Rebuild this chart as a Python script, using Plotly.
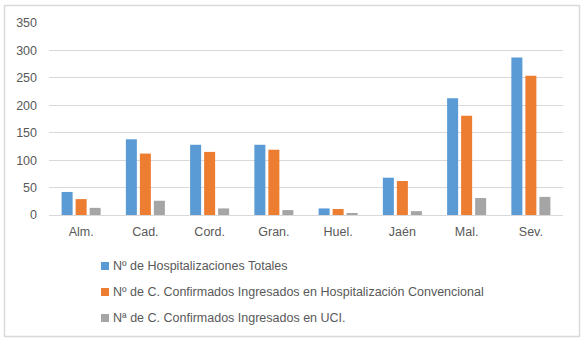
import plotly.graph_objects as go

categories = ["Alm.", "Cad.", "Cord.", "Gran.", "Huel.", "Jaén", "Mal.", "Sev."]
hosp_totales = [42, 138, 128, 128, 12, 68, 213, 287]
hosp_convencional = [29, 112, 115, 119, 11, 62, 181, 254]
uci = [13, 26, 12, 9, 2, 7, 31, 33]
series_names = [
    "Nº de Hospitalizaciones Totales",
    "Nº de C. Confirmados Ingresados en Hospitalización Convencional",
    "Nª de C. Confirmados Ingresados en UCI.",
]
colors = ["#5B9BD5", "#ED7D31", "#A5A5A5"]
y_ticks = [0, 50, 100, 150, 200, 250, 300, 350]

W, H = 586, 344
ml, mr, mt, mb = 49, 23, 23, 129
pw = W - ml - mr
ph = H - mt - mb


def px_x(x):
    return (x - ml) / pw


def px_y(y):
    return (H - mb - y) / ph


fig = go.Figure()
for name, vals, c in zip(series_names, [hosp_totales, hosp_convencional, uci], colors):
    fig.add_trace(go.Bar(x=categories, y=vals, name=name, showlegend=False,
                         marker=dict(color=c, line=dict(width=0))))

shapes = [dict(type="rect", xref="paper", yref="paper",
               x0=px_x(4.5), x1=px_x(579.5), y0=px_y(336.5), y1=px_y(5.5),
               line=dict(color="#D9D9D9", width=1.5), layer="below")]
annotations = []
row_y = [266, 292, 318]
for name, c, yc in zip(series_names, colors, row_y):
    shapes.append(dict(type="rect", xref="paper", yref="paper",
                       x0=px_x(101), x1=px_x(109), y0=px_y(yc + 4), y1=px_y(yc - 4),
                       fillcolor=c, line=dict(width=0)))
    annotations.append(dict(xref="paper", yref="paper", x=px_x(111), y=px_y(yc),
                            xanchor="left", yanchor="middle", showarrow=False,
                            text=name, font=dict(size=12.5, color="#595959")))

fig.update_layout(
    width=W, height=H,
    margin=dict(l=ml, r=mr, t=mt, b=mb),
    paper_bgcolor="white", plot_bgcolor="white",
    barmode="group", bargap=0.346, bargroupgap=0.214,
    font=dict(family="Liberation Sans, Arial, sans-serif", size=12, color="#595959"),
    xaxis=dict(showgrid=False, showline=True, linecolor="#D9D9D9", linewidth=1,
               ticks="", tickfont=dict(size=12.5, color="#595959"), fixedrange=True,
               ticklabelstandoff=5),
    yaxis=dict(range=[0, 350], tickvals=y_ticks, showgrid=True, gridcolor="#D9D9D9",
               gridwidth=1, zeroline=False, showline=False, ticks="",
               tickfont=dict(size=12.5, color="#595959"), ticklabelstandoff=11),
    showlegend=False,
    shapes=shapes,
    annotations=annotations,
)

fig.write_html("out.html")
